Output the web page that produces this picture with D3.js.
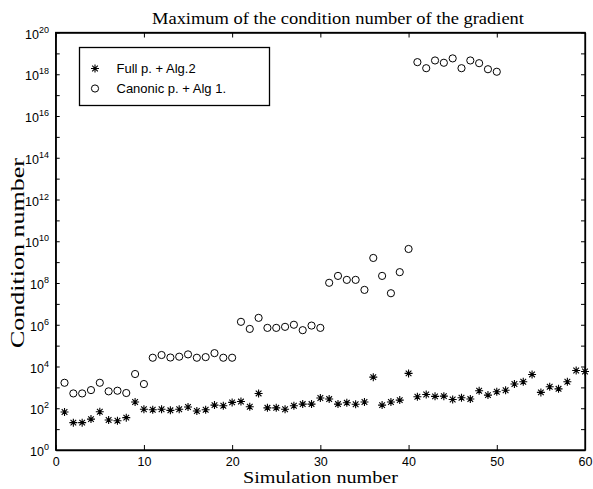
<!DOCTYPE html>
<html>
<head>
<meta charset="utf-8">
<script src="https://cdn.jsdelivr.net/npm/d3@7"></script>
<style>
body{margin:0;background:#fff;}
svg{display:block;}
</style>
</head>
<body>
<svg class="chart" width="593" height="489"></svg>
<script>
// log10 of the condition number
var simulations = d3.range(1, 61);
var fullAlg2 = [1.82,1.31,1.31,1.48,1.83,1.44,1.40,1.55,2.30,1.95,
                1.93,1.95,1.90,1.95,2.06,1.87,1.93,2.15,2.12,2.28,
                2.32,2.07,2.71,2.02,2.02,1.95,2.12,2.20,2.20,2.49,
                2.44,2.20,2.26,2.19,2.30,3.49,2.15,2.30,2.39,3.67,
                2.55,2.66,2.57,2.58,2.42,2.50,2.44,2.84,2.63,2.79,
                2.86,3.16,3.27,3.62,2.76,3.03,2.93,3.27,3.81,3.76];
var canonicAlg1 = [3.22,2.71,2.71,2.87,3.22,2.81,2.84,2.73,3.64,3.16,
                   4.42,4.55,4.43,4.47,4.58,4.42,4.45,4.64,4.42,4.42,
                   6.14,5.80,6.33,5.85,5.85,5.90,6.00,5.74,5.96,5.85,
                   8.01,8.34,8.15,8.15,7.67,9.20,8.34,7.51,8.52,9.63,
                   18.58,18.29,18.66,18.55,18.76,18.29,18.66,18.53,18.24,18.12];
var xTicks = [0,10,20,30,40,50,60];
var yExpTicks = d3.range(0, 21);
var yLabelExps = d3.range(0, 21, 2);
var legendLabels = ["Full p. + Alg.2", "Canonic p. + Alg 1."];
var titleText = "Maximum of the condition number of the gradient";

var svg = d3.select("svg.chart");
var pLeft = 55.7, pRight = 585, pTop = 32.5, pBottom = 450;

var x = d3.scaleLinear().domain([0, 60]).range([pLeft, pRight]);
var y = d3.scaleLog().domain([1, 1e20]).range([pBottom, pTop]);

var sans = "Liberation Sans, Arial, sans-serif";
var serif = "Liberation Serif, DejaVu Serif, serif";

// axes with inward ticks on all four sides
var gx = svg.append("g").attr("transform", "translate(0," + pBottom + ")")
    .call(d3.axisBottom(x).tickValues(xTicks).tickSizeInner(-5).tickSizeOuter(0).tickPadding(7.5));
gx.selectAll("text").attr("font-family", sans).attr("font-size", 12.5).attr("fill", "#000");

svg.append("g").attr("transform", "translate(0," + pTop + ")")
    .call(d3.axisTop(x).tickValues(xTicks).tickSizeInner(-5).tickSizeOuter(0).tickFormat(""));

var yVals = yExpTicks.map(function(e){ return Math.pow(10, e); });
svg.append("g").attr("transform", "translate(" + pLeft + ",0)")
    .call(d3.axisLeft(y).tickValues(yVals).tickSizeInner(-4).tickSizeOuter(0).tickFormat(""));
svg.append("g").attr("transform", "translate(" + pRight + ",0)")
    .call(d3.axisRight(y).tickValues(yVals).tickSizeInner(-4).tickSizeOuter(0).tickFormat(""));

svg.selectAll(".domain").attr("stroke", "#000").attr("stroke-width", 1.3);
svg.selectAll(".tick line").attr("stroke", "#000");

// box
svg.append("rect")
    .attr("x", pLeft).attr("y", pTop)
    .attr("width", pRight - pLeft).attr("height", pBottom - pTop)
    .attr("fill", "none").attr("stroke", "#000").attr("stroke-width", 1.3);

// y tick labels 10^n
var yl = svg.append("g").selectAll("text").data(yLabelExps).enter().append("text")
    .attr("x", 49).attr("y", function(d){ return y(Math.pow(10, d)) + 6; })
    .attr("text-anchor", "end")
    .attr("font-family", sans).attr("font-size", 12.5);
yl.append("tspan").text("10");
yl.append("tspan").attr("dy", -6).attr("font-size", 9).text(function(d){ return d; });

// star marker path (asterisk)
function starPath(cx, cy, r){
    var p = "";
    for (var k = 0; k < 4; k++){
        var a = k * Math.PI / 4;
        var dx = r * Math.cos(a), dy = r * Math.sin(a);
        p += "M" + (cx - dx) + "," + (cy - dy) + "L" + (cx + dx) + "," + (cy + dy);
    }
    return p;
}

svg.append("g").selectAll("path").data(fullAlg2).enter().append("path")
    .attr("d", function(d, i){ return starPath(x(simulations[i]), y(Math.pow(10, d)), 4); })
    .attr("stroke", "#000").attr("stroke-width", 1.1).attr("fill", "none");

svg.append("g").selectAll("circle").data(canonicAlg1).enter().append("circle")
    .attr("cx", function(d, i){ return x(simulations[i]); })
    .attr("cy", function(d){ return y(Math.pow(10, d)); })
    .attr("r", 3.6)
    .attr("fill", "none").attr("stroke", "#000").attr("stroke-width", 1);

// legend
var lg = svg.append("g");
lg.append("rect").attr("x", 79.5).attr("y", 47.5).attr("width", 190).attr("height", 58)
    .attr("fill", "#fff").attr("stroke", "#000").attr("stroke-width", 1.3);
lg.append("path").attr("d", starPath(95, 68.5, 4)).attr("stroke", "#000").attr("stroke-width", 1.1);
lg.append("circle").attr("cx", 95).attr("cy", 88.5).attr("r", 3.6)
    .attr("fill", "none").attr("stroke", "#000");
lg.selectAll("text").data(legendLabels).enter().append("text")
    .attr("x", 116.5).attr("y", function(d, i){ return 73 + i * 20; })
    .attr("font-family", sans).attr("font-size", 13).text(function(d){ return d; });

// title and axis labels (glyphs stretched to the wider serif of the original)
svg.append("text").attr("x", 152).attr("y", 24)
    .attr("font-family", serif).attr("font-size", 17)
    .attr("textLength", 372).attr("lengthAdjust", "spacingAndGlyphs").text(titleText);
svg.append("text").attr("x", 243).attr("y", 483)
    .attr("font-family", serif).attr("font-size", 17)
    .attr("textLength", 155).attr("lengthAdjust", "spacingAndGlyphs").text("Simulation number");
svg.append("text").attr("transform", "translate(24,348) rotate(-90)")
    .attr("font-family", serif).attr("font-size", 18)
    .attr("textLength", 190).attr("lengthAdjust", "spacingAndGlyphs").text("Condition number");
</script>
</body>
</html>
